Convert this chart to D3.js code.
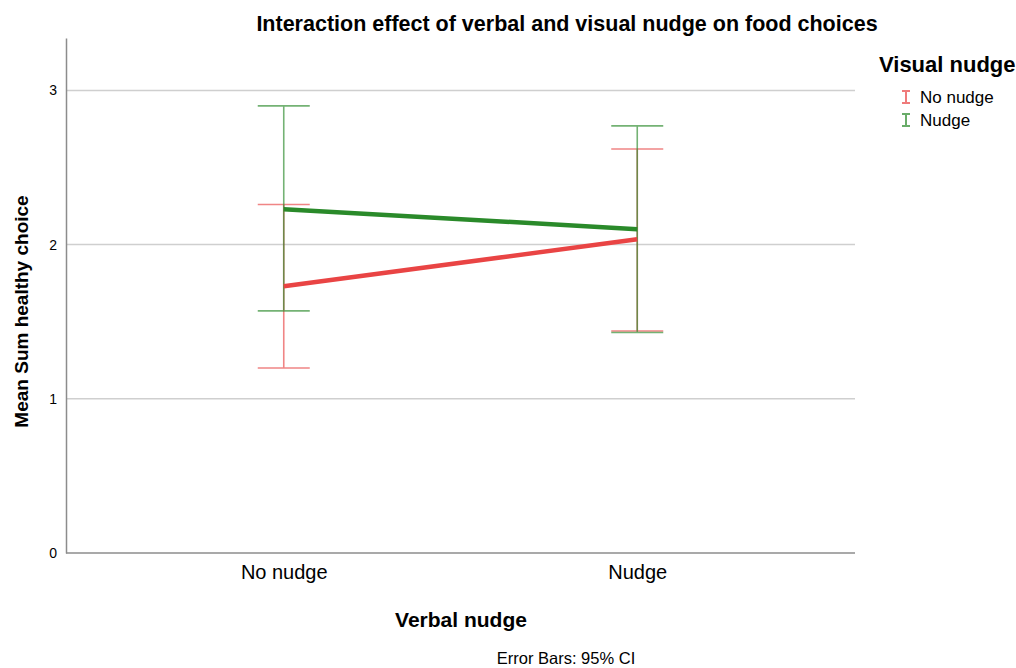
<!DOCTYPE html>
<html>
<head>
<meta charset="utf-8">
<script src="https://cdn.jsdelivr.net/npm/d3@7"></script>
<style>
  body { margin: 0; background: #fff; }
  text { font-family: "Liberation Sans", Arial, sans-serif; fill: #000; }
</style>
</head>
<body>
<div id="chart"></div>
<script>
// data
const verbalGroups = ["No nudge", "Nudge"]
const visualGroups = ["No nudge", "Nudge"]
const meanNoVisual = [1.73, 2.035]
const lowNoVisual = [1.20, 1.44]
const highNoVisual = [2.26, 2.62]
const meanVisual = [2.23, 2.10]
const lowVisual = [1.57, 1.43]
const highVisual = [2.90, 2.77]
const yTicks = [0, 1, 2, 3]
const seriesColors = ["#e94444", "#2a8a2a"]

const width = 1016, height = 668
const margin = { top: 38, right: 161, bottom: 115, left: 66 }

const svg = d3.select("#chart").append("svg")
    .attr("width", width)
    .attr("height", height)

const x = d3.scalePoint()
    .domain(verbalGroups)
    .range([margin.left, width - margin.right])
    .padding(0.616)

const y = d3.scaleLinear()
    .domain([0, 3.34])
    .range([height - margin.bottom, margin.top])

// gridlines
svg.append("g")
    .selectAll("line")
    .data(yTicks.filter(d => d > 0))
    .enter().append("line")
    .attr("x1", margin.left)
    .attr("x2", width - margin.right)
    .attr("y1", d => y(d))
    .attr("y2", d => y(d))
    .attr("stroke", "#cfcfcf")
    .attr("stroke-width", 1.5)

// y axis
const yaxis = d3.axisLeft(y).tickValues(yTicks).tickFormat(d3.format("d")).tickSize(0).tickPadding(9)
svg.append("g")
    .attr("transform", `translate(${margin.left},0)`)
    .call(yaxis)
    .call(g => g.select(".domain").attr("stroke", "#8c8c8c").attr("stroke-width", 1.5))
    .selectAll("text")
    .attr("font-size", 14)

// x axis
const xaxis = d3.axisBottom(x).tickSize(0).tickPadding(12)
svg.append("g")
    .attr("transform", `translate(0,${height - margin.bottom})`)
    .call(xaxis)
    .call(g => g.select(".domain").attr("stroke", "#8c8c8c").attr("stroke-width", 1.5)
        .attr("d", `M${margin.left},0H${width - margin.right}`))
    .selectAll("text")
    .attr("font-size", 20)

const series = [
    { name: visualGroups[0], mean: meanNoVisual, low: lowNoVisual, high: highNoVisual, color: seriesColors[0] },
    { name: visualGroups[1], mean: meanVisual, low: lowVisual, high: highVisual, color: seriesColors[1] }
]

const capHalf = 26

// error bars
series.forEach(s => {
    const g = svg.append("g").attr("opacity", 0.65)
    verbalGroups.forEach((cat, i) => {
        const cx = x(cat)
        g.append("line")
            .attr("x1", cx).attr("x2", cx)
            .attr("y1", y(s.low[i])).attr("y2", y(s.high[i]))
            .attr("stroke", s.color).attr("stroke-width", 1.6)
        ;[s.low[i], s.high[i]].forEach(v => {
            g.append("line")
                .attr("x1", cx - capHalf).attr("x2", cx + capHalf)
                .attr("y1", y(v)).attr("y2", y(v))
                .attr("stroke", s.color).attr("stroke-width", 1.6)
        })
    })
})

// mean lines
const line = d3.line()
    .x((d, i) => x(verbalGroups[i]))
    .y(d => y(d))

series.forEach(s => {
    svg.append("path")
        .datum(s.mean)
        .attr("d", line)
        .attr("fill", "none")
        .attr("stroke", s.color)
        .attr("stroke-width", 4.5)
})

// title and labels
svg.append("text")
    .attr("x", 567).attr("y", 31)
    .attr("text-anchor", "middle")
    .attr("font-size", 21.5).attr("font-weight", "bold")
    .text("Interaction effect of verbal and visual nudge on food choices")

svg.append("text")
    .attr("transform", `translate(28,${(margin.top + height - margin.bottom) / 2 + 16}) rotate(-90)`)
    .attr("text-anchor", "middle")
    .attr("font-size", 19).attr("font-weight", "bold")
    .text("Mean Sum healthy choice")

svg.append("text")
    .attr("x", 461).attr("y", 627)
    .attr("text-anchor", "middle")
    .attr("font-size", 21).attr("font-weight", "bold")
    .text("Verbal nudge")

svg.append("text")
    .attr("x", 566).attr("y", 664)
    .attr("text-anchor", "middle")
    .attr("font-size", 16.5)
    .text("Error Bars: 95% CI")

// legend
const legend = svg.append("g")
svg.append("text")
    .attr("x", 879).attr("y", 72)
    .attr("font-size", 22).attr("font-weight", "bold")
    .text("Visual nudge")

series.forEach((s, i) => {
    const ly = 97 + i * 23
    const lg = legend.append("g").attr("opacity", 0.7)
    lg.append("line").attr("x1", 906).attr("x2", 906).attr("y1", ly - 6).attr("y2", ly + 6)
        .attr("stroke", s.color).attr("stroke-width", 2)
    ;[ly - 6, ly + 6].forEach(v => {
        lg.append("line").attr("x1", 902).attr("x2", 910).attr("y1", v).attr("y2", v)
            .attr("stroke", s.color).attr("stroke-width", 2)
    })
    legend.append("text")
        .attr("x", 920).attr("y", ly + 6)
        .attr("font-size", 17)
        .text(s.name)
})
</script>
</body>
</html>
